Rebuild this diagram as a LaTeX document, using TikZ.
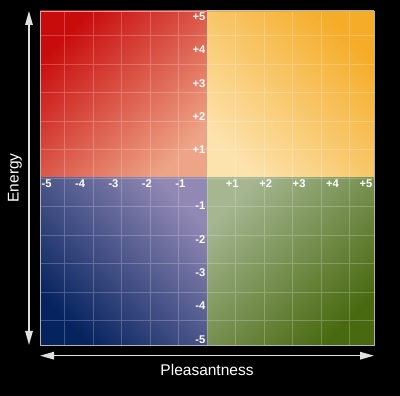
\documentclass[tikz,border=0pt]{standalone}
\usepackage{fontspec}
\setmainfont{Liberation Sans}
\usepackage{xcolor}
\usepackage{tikz}
\usetikzlibrary{positioning, arrows.meta, backgrounds}

\definecolor{redDark}{RGB}{200,12,12}
\definecolor{redMid}{RGB}{218,78,56}
\definecolor{redLight}{RGB}{238,165,135}
\definecolor{orangeDark}{RGB}{245,172,40}
\definecolor{orangeMid}{RGB}{246,190,80}
\definecolor{orangeLight}{RGB}{252,226,172}
\definecolor{navyDark}{RGB}{5,35,95}
\definecolor{navyMid}{RGB}{62,74,132}
\definecolor{navyLight}{RGB}{145,136,180}
\definecolor{greenDark}{RGB}{72,105,15}
\definecolor{greenMid}{RGB}{102,132,60}
\definecolor{greenLight}{RGB}{165,182,145}

\begin{document}
\begin{tikzpicture}[x=33.4pt, y=33.4pt,
    scaleLabel/.style={text=white, font=\bfseries\fontsize{11.2}{12}\selectfont, inner sep=1.5pt},
    axisTitle/.style={text=white, font=\fontsize{15.5}{16}\selectfont},
    axisArrow/.style={draw=white!88!black, line width=1.4pt,
      {Triangle[length=14pt,width=7.5pt]}-{Triangle[length=14pt,width=7.5pt]}},
    gridLine/.style={draw=white, opacity=0.22, line width=0.6pt}]
        \fill[black] (-6.198,-6.527) rectangle (5.778,5.329);
        \useasboundingbox (-6.198,-6.527) rectangle (5.778,5.329);

        % quadrants
        \shade[top color=redDark, middle color=redMid, bottom color=redLight, shading angle=45] (-5,0) rectangle (0,5);
        \shade[top color=orangeDark, middle color=orangeMid, bottom color=orangeLight, shading angle=-45] (0,0) rectangle (5,5);
        \shade[top color=navyLight, middle color=navyMid, bottom color=navyDark, shading angle=-45] (-5,-5) rectangle (0,0);
        \shade[top color=greenLight, middle color=greenMid, bottom color=greenDark, shading angle=45] (0,-5) rectangle (5,0);

        \draw[gridLine] (-5,-5) grid (5,5);
        \draw[gray!60, line width=0.8pt] (-5,-5) rectangle (5,5);

        % scale values
        \foreach \i in {1,...,5} {
          \node[scaleLabel, anchor=north west] (xm\i) at (-\i,0) {-\i};
          \node[scaleLabel, anchor=north east] (xp\i) at (\i,0) {+\i};
          \node[scaleLabel, anchor=north east] (yp\i) at (0,\i) {+\i};
          \node[scaleLabel, anchor=south east] (ym\i) at (0,-\i) {-\i};
        }

        % axes
        \coordinate (energyTop) at (-5.33,5);
        \coordinate (energyBottom) at (-5.33,-5);
        \coordinate (pleasLeft) at (-5,-5.32);
        \coordinate (pleasRight) at (5,-5.32);
        \draw[axisArrow] (energyBottom) -- (energyTop);
        \draw[axisArrow] (pleasLeft) -- (pleasRight);
        \node[axisTitle, rotate=90] (energy) at (-5.75,0) {Energy};
        \node[axisTitle] (pleasantness) at (0,-5.75) {Pleasantness};
      \end{tikzpicture}
\end{document}
